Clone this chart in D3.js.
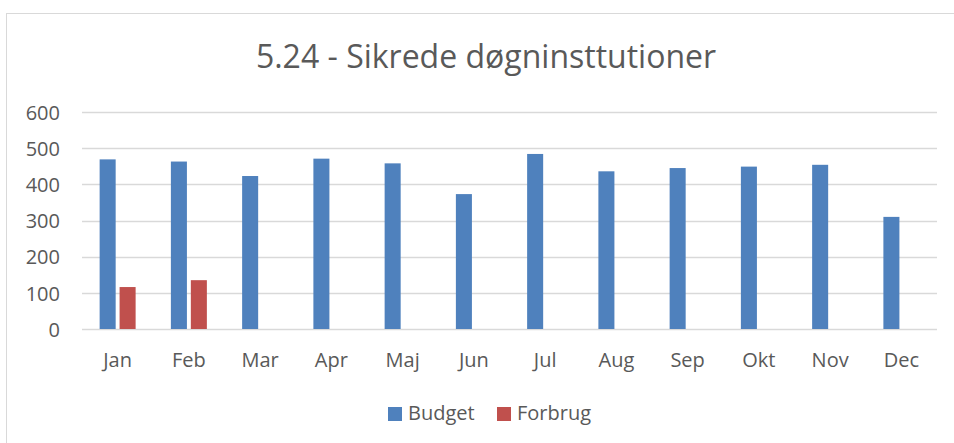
<!DOCTYPE html>
<meta charset="utf-8">
<head>
	<title>5.24 - Sikrede døgninsttutioner</title>
	<script src="https://d3js.org/d3.v7.min.js"></script>
	<style>
		body { margin: 0; background: #fff; overflow: hidden; }
		text { font-family: "Open Sans", Lato, sans-serif; fill: #595959; }
	</style>
</head>
<body>
<script>

	// data
	const months = ['Jan', 'Feb', 'Mar', 'Apr', 'Maj', 'Jun', 'Jul', 'Aug', 'Sep', 'Okt', 'Nov', 'Dec'];
	const budget = [469, 463, 423, 471, 458, 373, 484, 436, 445, 449, 454, 310];
	const forbrug = [116, 135, null, null, null, null, null, null, null, null, null, null];
	const yTicks = [0, 100, 200, 300, 400, 500, 600];
	const seriesNames = ['Budget', 'Forbrug'];
	const seriesColors = ['#4f81bd', '#c0504d'];

	const width = 954;
	const height = 443;
	const margin = {top: 112, right: 17, bottom: 114, left: 82};

	const svg = d3.select('body')
		.append('svg')
		.attr('width', width)
		.attr('height', height);

	// chart frame (only left and top edges show in the crop)
	svg.append('rect')
		.attr('x', 6.5)
		.attr('y', 13.5)
		.attr('width', width + 20)
		.attr('height', height + 20)
		.attr('fill', 'none')
		.attr('stroke', '#d9d9d9');

	svg.append('text')
		.attr('x', 486)
		.attr('y', 68)
		.attr('text-anchor', 'middle')
		.style('font-size', '32px')
		.text('5.24 - Sikrede døgninsttutioner');

	const x = d3.scaleBand()
		.domain(months)
		.range([margin.left, width - margin.right]);

	const y = d3.scaleLinear()
		.domain([0, 600])
		.range([height - margin.bottom, margin.top]);

	const barW = x.bandwidth() * 0.225;
	const innerGap = x.bandwidth() * 0.055;

	// gridlines
	svg.append('g')
		.selectAll('line')
		.data(yTicks)
		.enter().append('line')
			.attr('x1', margin.left)
			.attr('x2', width - margin.right)
			.attr('y1', d => Math.round(y(d)) + 0.5)
			.attr('y2', d => Math.round(y(d)) + 0.5)
			.attr('stroke', '#d9d9d9')
			.attr('stroke-width', 1.5);

	// y axis labels
	const yAxis = d3.axisLeft(y).tickValues(yTicks).tickSize(0).tickPadding(0);
	svg.append('g')
		.attr('transform', `translate(60,0)`)
		.call(yAxis)
		.call(g => g.select('.domain').remove())
		.selectAll('text')
			.style('font-size', '20px')
			.attr('dy', '0.36em');

	// x axis labels
	const xAxis = d3.axisBottom(x).tickSize(0).tickPadding(0);
	svg.append('g')
		.attr('transform', `translate(0,367)`)
		.call(xAxis)
		.call(g => g.select('.domain').remove())
		.selectAll('text')
			.style('font-size', '20px')
			.attr('y', 0)
			.attr('dy', 0);

	const series = [budget, forbrug];
	series.forEach((vals, i) => {
		svg.append('g')
			.selectAll('rect')
			.data(vals.map((v, j) => ({m: months[j], v: v})).filter(d => d.v != null))
			.enter().append('rect')
				.attr('x', d => x(d.m) + x.bandwidth() / 2 - barW - innerGap / 2 + i * (barW + innerGap))
				.attr('y', d => y(d.v))
				.attr('width', barW)
				.attr('height', d => y(0) - y(d.v))
				.attr('fill', seriesColors[i]);
	});

	// legend
	const legendX = [388, 497];
	const legend = svg.append('g');
	seriesNames.forEach((name, i) => {
		legend.append('rect')
			.attr('x', legendX[i])
			.attr('y', 407)
			.attr('width', 14)
			.attr('height', 14)
			.attr('fill', seriesColors[i]);
		legend.append('text')
			.attr('x', legendX[i] + 20)
			.attr('y', 420)
			.style('font-size', '20px')
			.text(name);
	});

</script>
</body>
</html>
